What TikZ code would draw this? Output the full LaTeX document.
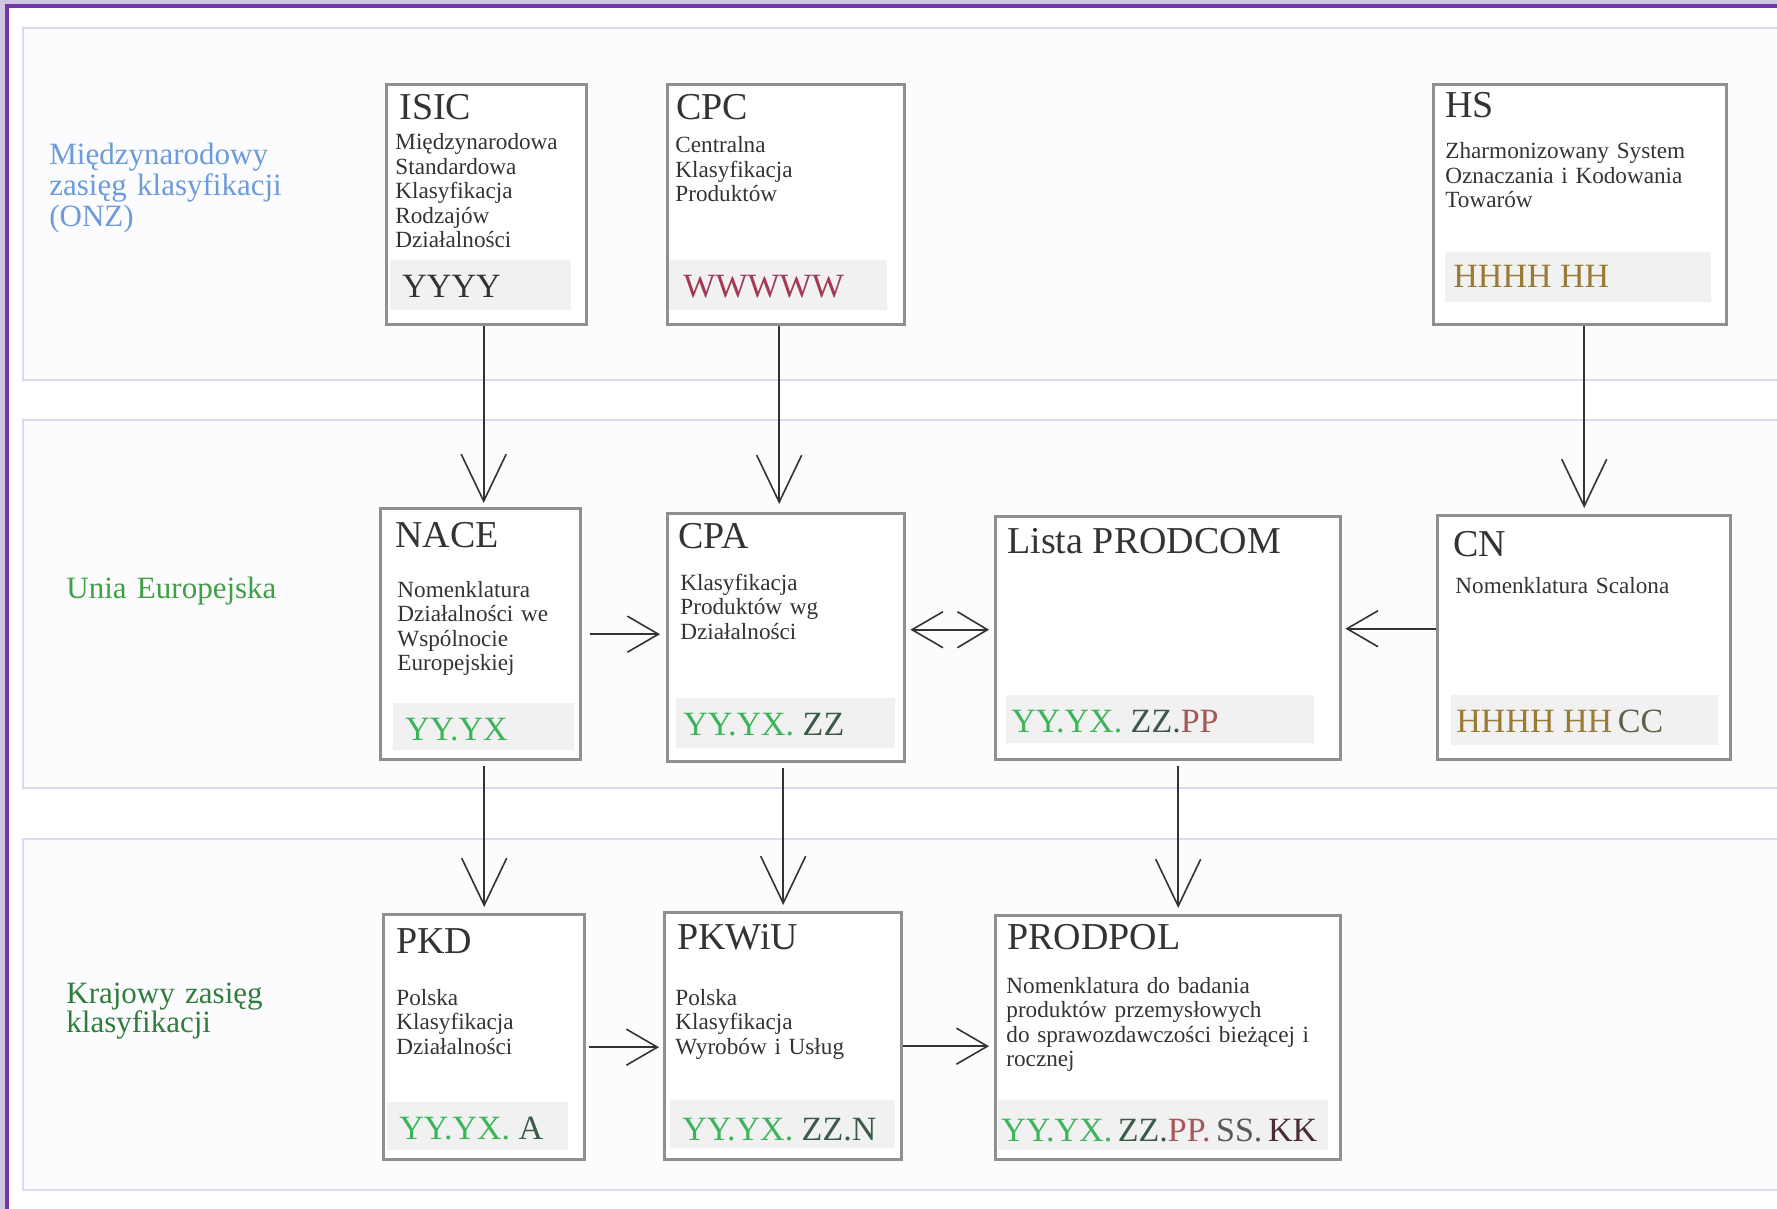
\documentclass[tikz,border=0pt]{standalone}
\usepackage{fontspec}
\setmainfont{Liberation Serif}
\usetikzlibrary{arrows.meta}
\definecolor{tekst}{HTML}{333333}
\definecolor{ramka}{HTML}{8F8F8F}
\definecolor{kodTlo}{HTML}{F1F1F1}
\definecolor{pasmoRama}{HTML}{DADAF0}
\definecolor{pasmoTlo}{HTML}{FCFCFE}
\definecolor{tloZew}{HTML}{CFC6E2}
\definecolor{fiolet}{HTML}{7236A6}
\definecolor{onzKolor}{HTML}{6C9BDC}
\definecolor{ueKolor}{HTML}{3F9F45}
\definecolor{krajKolor}{HTML}{2F7D3C}
\definecolor{kodY}{HTML}{3CB55A}
\definecolor{kodZ}{HTML}{3B5B48}
\definecolor{kodP}{HTML}{A5575A}
\definecolor{kodS}{HTML}{5A5A5A}
\definecolor{kodK}{HTML}{4B2B33}
\definecolor{kodW}{HTML}{A33A55}
\definecolor{kodH}{HTML}{9A7B35}
\definecolor{kodC}{HTML}{5C6048}
\begin{document}
\begin{tikzpicture}[x=0.5pt,y=-0.5pt,
    pasmo/.style={draw=pasmoRama,line width=1.4pt,fill=pasmoTlo},
    klasa/.style={draw=ramka,line width=1.7pt,fill=white,anchor=north west,inner sep=0pt},
    pasek/.style={fill=kodTlo,anchor=north west,inner sep=0pt},
    tytul/.style={anchor=base west,inner sep=0pt,text=tekst,font=\fontsize{19}{22}\selectfont},
    opis/.style={anchor=base west,inner sep=0pt,text=tekst,align=left,text width=170pt,font=\fontsize{11.6}{12.25}\selectfont},
    kod/.style={anchor=base west,inner sep=0pt,font=\fontsize{17}{20}\selectfont},
    zasieg/.style={anchor=base west,inner sep=0pt,align=left,text width=160pt,font=\fontsize{15.5}{15.5}\selectfont},
    pion/.style={draw=tekst,line width=0.8pt,-{Straight Barb[length=23.5pt,width=22.5pt]}},
    poziom/.style={draw=tekst,line width=0.8pt,-{Straight Barb[length=15.5pt,width=18pt]}},
    oba/.style={draw=tekst,line width=0.8pt,{Straight Barb[length=15.5pt,width=18pt]}-{Straight Barb[length=15pt,width=18pt]}}]
  \useasboundingbox (0,0) rectangle (1777,1209);
  \clip (0,0) rectangle (1777,1209);
  \fill[tloZew] (0,0) rectangle (1777,1209);
  \fill[white] (8,7) rectangle (1777,1209);
  \draw[fiolet,line width=1.6pt] (7,1209) -- (7,6) -- (1777,6);
  % pasma
  \draw[pasmo] (23,28) rectangle (1800,380);
  \draw[pasmo] (23,420) rectangle (1800,788);
  \draw[pasmo] (23,839) rectangle (1800,1190);
  \node[zasieg,text=onzKolor] (onz) at (49,165) {Międzynarodowy\\zasięg klasyfikacji\\(ONZ)};
  \node[zasieg,text=ueKolor] (ue) at (66,598) {Unia Europejska};
  \node[zasieg,text=krajKolor,font=\fontsize{15.5}{14.5}\selectfont] (kraj) at (66,1003) {Krajowy zasięg\\klasyfikacji};
  % ONZ
  \node[klasa,minimum width=100pt,minimum height=120pt] (isic) at (385,83) {};
  \node[pasek,minimum width=90.5pt,minimum height=25pt] (isicP) at (390,260) {};
  \node[tytul] (isicT) at (399,120) {ISIC};
  \node[opis] (isicO) at (395,150) {Międzynarodowa\\Standardowa\\Klasyfikacja\\Rodzajów\\Działalności};
  \node[kod,text=tekst] (isicK) at (402,298) {YYYY};
  \node[klasa,minimum width=118.5pt,minimum height=120pt] (cpc) at (666,83) {};
  \node[pasek,minimum width=109pt,minimum height=25pt] (cpcP) at (669,260) {};
  \node[tytul] (cpcT) at (676,120) {CPC};
  \node[opis] (cpcO) at (675,153) {Centralna\\Klasyfikacja\\Produktów};
  \node[kod,text=kodW] (cpcK) at (683,298) {WWWWW};
  \node[klasa,minimum width=146.5pt,minimum height=120pt] (hs) at (1432,83) {};
  \node[pasek,minimum width=133pt,minimum height=25pt] (hsP) at (1445,252) {};
  \node[tytul] (hsT) at (1445,118) {HS};
  \node[opis] (hsO) at (1445,159) {Zharmonizowany System\\Oznaczania i Kodowania\\Towarów};
  \node[kod,text=kodH] (hsK) at (1453,287) {HHHH HH};
  % UE
  \node[klasa,minimum width=100pt,minimum height=125.5pt] (nace) at (379,507) {};
  \node[pasek,minimum width=90.5pt,minimum height=23.5pt] (naceP) at (393,703) {};
  \node[tytul] (naceT) at (395,547) {NACE};
  \node[opis] (naceO) at (397,597) {Nomenklatura\\Działalności we\\Wspólnocie\\Europejskiej};
  \node[kod,text=kodY] (naceK) at (405,740) {YY.YX};
  \node[klasa,minimum width=118.5pt,minimum height=124pt] (cpa) at (666,512) {};
  \node[pasek,minimum width=109.5pt,minimum height=25pt] (cpaP) at (676,698) {};
  \node[tytul] (cpaT) at (678,548) {CPA};
  \node[opis] (cpaO) at (680,590) {Klasyfikacja\\Produktów wg\\Działalności};
  \node[kod] (cpaK) at (683,735) {\textcolor{kodY}{YY.YX.} \textcolor{kodZ}{ZZ}};
  \node[klasa,minimum width=172.5pt,minimum height=121.5pt] (prodcom) at (994,515) {};
  \node[pasek,minimum width=154pt,minimum height=24pt] (prodcomP) at (1006,695) {};
  \node[tytul] (prodcomT) at (1007,553) {Lista PRODCOM};
  \node[kod] (prodcomK) at (1011,732) {\textcolor{kodY}{YY.YX.} \textcolor{kodZ}{ZZ.}\textcolor{kodP}{PP}};
  \node[klasa,minimum width=146.5pt,minimum height=122pt] (cn) at (1436,514) {};
  \node[pasek,minimum width=133.5pt,minimum height=25pt] (cnP) at (1451,695) {};
  \node[tytul] (cnT) at (1453,556) {CN};
  \node[opis] (cnO) at (1455,593) {Nomenklatura Scalona};
  \node[kod] (cnK) at (1456,732) {\textcolor{kodH}{HHHH HH}\,\textcolor{kodC}{CC}};
  % kraj
  \node[klasa,minimum width=100.5pt,minimum height=122.5pt] (pkd) at (382,913) {};
  \node[pasek,minimum width=90.5pt,minimum height=24pt] (pkdP) at (387,1102) {};
  \node[tytul] (pkdT) at (396,953) {PKD};
  \node[opis] (pkdO) at (396,1005) {Polska\\Klasyfikacja\\Działalności};
  \node[kod] (pkdK) at (399,1139) {\textcolor{kodY}{YY.YX.} \textcolor{kodZ}{A}};
  \node[klasa,minimum width=118.5pt,minimum height=123.5pt] (pkwiu) at (663,911) {};
  \node[pasek,minimum width=112.5pt,minimum height=24pt] (pkwiuP) at (670,1100) {};
  \node[tytul] (pkwiuT) at (677,949) {PKWiU};
  \node[opis] (pkwiuO) at (675,1005) {Polska\\Klasyfikacja\\Wyrobów i Usług};
  \node[kod] (pkwiuK) at (682,1140) {\textcolor{kodY}{YY.YX.} \textcolor{kodZ}{ZZ.N}};
  \node[klasa,minimum width=172.5pt,minimum height=122pt] (prodpol) at (994,914) {};
  \node[pasek,minimum width=165pt,minimum height=25pt] (prodpolP) at (998,1100) {};
  \node[tytul] (prodpolT) at (1007,949) {PRODPOL};
  \node[opis] (prodpolO) at (1006,993) {Nomenklatura do badania\\produktów przemysłowych\\do sprawozdawczości bieżącej i\\rocznej};
  \node[kod] (prodpolK) at (1001,1141) {\textcolor{kodY}{YY.YX.}\,\textcolor{kodZ}{ZZ.}\textcolor{kodP}{PP.}\,\textcolor{kodS}{SS.}\,\textcolor{kodK}{KK}};
  % strzalki
  \draw[pion,shorten >=2pt] ([xshift=-1.5pt]isic.south) -- ([xshift=-1.5pt]isic.south |- nace.north);
  \draw[pion,shorten >=4pt] ([xshift=-3.5pt]cpc.south) -- ([xshift=-3.5pt]cpc.south |- cpa.north);
  \draw[pion,shorten >=3pt] (hs.south -| cn.north) -- (cn.north);
  \draw[pion,shorten <=2.5pt,shorten >=3pt] (nace.south -| pkd.north) -- (pkd.north);
  \draw[pion,shorten <=2.5pt,shorten >=3pt] (cpa.south -| pkwiu.north) -- (pkwiu.north);
  \draw[pion,shorten <=2.5pt,shorten >=3pt] ([xshift=5pt]prodcom.south) -- ([xshift=5pt]prodcom.south |- prodpol.north);
  \draw[poziom,shorten <=4pt,shorten >=3pt] (nace.east) -- (nace.east -| cpa.west);
  \draw[oba,shorten <=2pt,shorten >=2.5pt] ([yshift=4pt]cpa.east) -- ([yshift=4pt]cpa.east -| prodcom.west);
  \draw[poziom,shorten >=1.5pt] ([yshift=4.5pt]cn.west) -- ([yshift=4.5pt]cn.west -| prodcom.east);
  \draw[poziom,shorten <=1.5pt,shorten >=2pt] ([yshift=-5pt]pkd.east) -- ([yshift=-5pt]pkd.east -| pkwiu.west);
  \draw[poziom,shorten >=2.5pt] ([yshift=-5pt]pkwiu.east) -- ([yshift=-5pt]pkwiu.east -| prodpol.west);
\end{tikzpicture}
\end{document}
